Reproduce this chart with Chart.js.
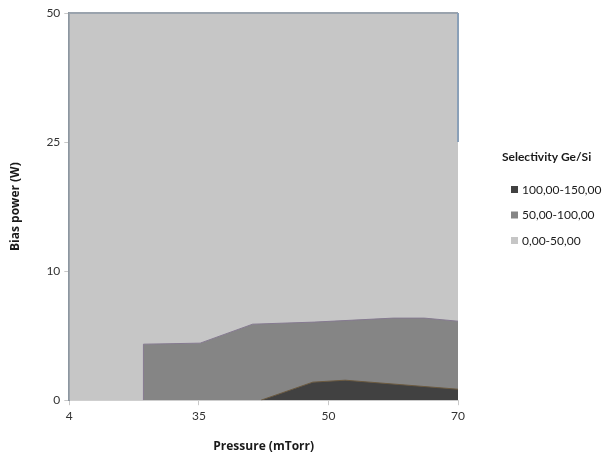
<!DOCTYPE html>
<html>
<head>
<meta charset="utf-8">
<script src="https://cdn.jsdelivr.net/npm/chart.js@4.4.1/dist/chart.umd.min.js"></script>
<style>
    html, body { margin: 0; padding: 0; background: #fff; }
    #wrap { width: 611px; height: 454px; position: relative; }
</style>
</head>
<body>
<div id="wrap"><canvas id="contourChart"></canvas></div>
<script>
// axis categories (evenly spaced, like Excel's surface chart)
const pressureLabels = ['4', '35', '50', '70'];
const biasLabels = ['0', '10', '25', '50'];

// band names, top of legend first
const bandNames = ['100,00-150,00', '50,00-100,00', '0,00-50,00'];
const bandColors = ['#414141', '#858585', '#c6c6c6'];

// upper edge of each band (x/y in category index units)
const darkX = [1.48, 1.88, 2.13, 3.0];
const darkY = [0, 0.14, 0.155, 0.085];

const midX = [0.572, 0.572, 1.01, 1.415, 1.89, 2.5, 2.74, 3.0];
const midY = [0, 0.434, 0.442, 0.589, 0.605, 0.636, 0.636, 0.612];

const lightX = [0, 3];
const lightY = [3, 3];

const toPoints = (xs, ys) => xs.map((x, i) => ({ x: x, y: ys[i] }));

const frame = {
    id: 'frame',
    afterDatasetsDraw(chart) {
        const { ctx, chartArea: a, scales } = chart;
        ctx.save();
        ctx.lineWidth = 2;
        ctx.strokeStyle = '#9aa3ad';
        ctx.beginPath();
        ctx.moveTo(a.left, a.top);
        ctx.lineTo(a.right, a.top);
        ctx.stroke();
        ctx.strokeStyle = '#8aa0b8';
        ctx.beginPath();
        ctx.moveTo(a.right, a.top);
        ctx.lineTo(a.right, scales.y.getPixelForValue(2));
        ctx.stroke();
        ctx.restore();
    },
    afterDraw(chart) {
        // legend drawn by hand so it sits where Excel put it
        const ctx = chart.ctx;
        ctx.save();
        ctx.fillStyle = '#1a1a1a';
        ctx.font = 'bold 12px Lato, "Open Sans", sans-serif';
        ctx.textBaseline = 'middle';
        ctx.fillText('Selectivity Ge/Si', 502, 157);
        ctx.font = '12px Lato, "Open Sans", sans-serif';
        bandNames.forEach((name, i) => {
            const y = 190 + i * 25.5;
            ctx.fillStyle = bandColors[i];
            ctx.fillRect(511, y - 4, 7, 7);
            ctx.fillStyle = '#1a1a1a';
            ctx.fillText(name, 522, y);
        });
        ctx.restore();
    }
};

const titleFont = { family: '"Open Sans", sans-serif', size: 12, weight: 'bold' };
const tickFont = { family: 'Lato, "Open Sans", sans-serif', size: 12 };

new Chart(document.getElementById('contourChart'), {
    type: 'scatter',
    data: {
        datasets: [
            {
                label: bandNames[0],
                data: toPoints(darkX, darkY),
                showLine: true,
                fill: 'origin',
                backgroundColor: bandColors[0],
                borderColor: '#6b5a40',
                borderWidth: 1,
                pointRadius: 0,
                tension: 0
            },
            {
                label: bandNames[1],
                data: toPoints(midX, midY),
                showLine: true,
                fill: 'origin',
                backgroundColor: bandColors[1],
                borderColor: '#857a90',
                borderWidth: 1,
                pointRadius: 0,
                tension: 0
            },
            {
                label: bandNames[2],
                data: toPoints(lightX, lightY),
                showLine: true,
                fill: 'origin',
                backgroundColor: bandColors[2],
                borderColor: bandColors[2],
                borderWidth: 0,
                pointRadius: 0,
                tension: 0
            }
        ]
    },
    options: {
        responsive: true,
        maintainAspectRatio: false,
        animation: false,
        layout: { padding: { top: 13, right: 153, left: 8, bottom: 0 } },
        plugins: {
            legend: { display: false },
            tooltip: { enabled: false }
        },
        scales: {
            x: {
                type: 'linear',
                min: 0,
                max: 3,
                ticks: {
                    stepSize: 1,
                    color: '#333',
                    font: tickFont,
                    padding: 4,
                    callback: v => pressureLabels[v]
                },
                grid: { drawOnChartArea: false, tickLength: 5, color: '#c8c8c8' },
                border: { color: '#d0d0d0', width: 1 },
                title: {
                    display: true,
                    text: 'Pressure (mTorr)',
                    color: '#1a1a1a',
                    font: titleFont,
                    padding: { top: 12, bottom: 0 }
                }
            },
            y: {
                type: 'linear',
                min: 0,
                max: 3,
                ticks: {
                    stepSize: 1,
                    color: '#333',
                    font: tickFont,
                    padding: 4,
                    callback: v => biasLabels[v]
                },
                grid: { drawOnChartArea: false, tickLength: 5, color: '#c8c8c8' },
                border: { color: '#8c96a0', width: 2 },
                title: {
                    display: true,
                    text: 'Bias power (W)',
                    color: '#1a1a1a',
                    font: titleFont,
                    padding: { top: 0, bottom: 20 }
                }
            }
        }
    },
    plugins: [frame]
});
</script>
</body>
</html>
